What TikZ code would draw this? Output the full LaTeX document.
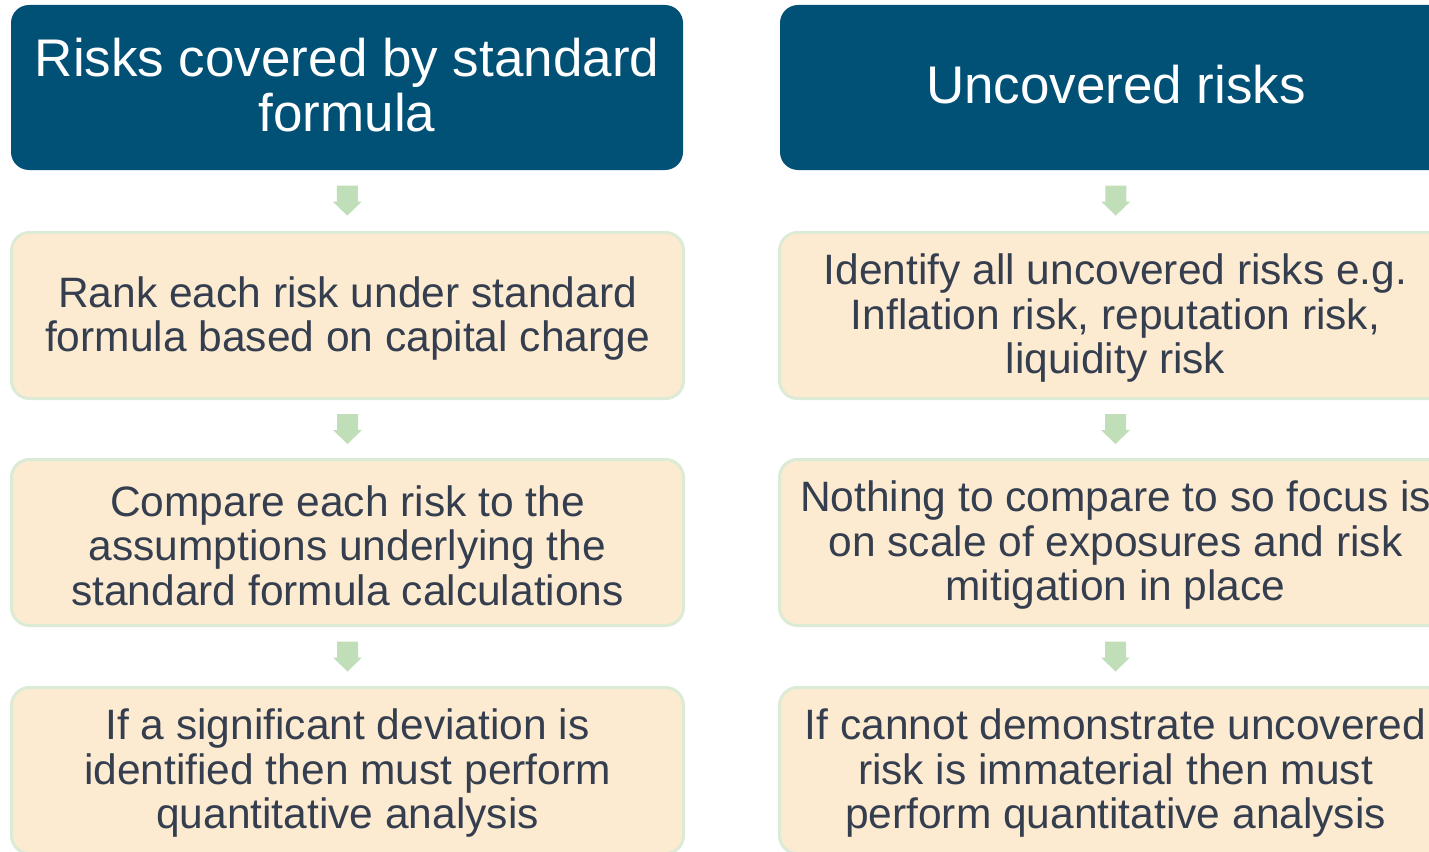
\documentclass[tikz,border=0pt]{standalone}
\usepackage{fontspec}
\setmainfont{Liberation Sans}
\usetikzlibrary{calc}
\definecolor{hdrblue}{RGB}{1,80,118}
\definecolor{boxfill}{RGB}{253,235,209}
\definecolor{boxline}{RGB}{219,235,213}
\definecolor{arrowgreen}{RGB}{192,223,185}
\definecolor{textslate}{RGB}{52,62,79}

% block arrow centred in the gap between two stacked nodes
\newcommand{\gaparrow}[2]{%
  \fill[arrowgreen] ($(#1.south)!0.5!(#2.north)$) ++(-10.5,-15) -- ++(21,0) -- ++(0,16)
    -- ++(4,0) -- ++(-14.5,14) -- ++(-14.5,-14) -- ++(4,0) -- cycle;}

\begin{document}
\begin{tikzpicture}[x=1pt,y=-1pt,
  hdr/.style={fill=hdrblue, rounded corners=18pt, minimum width=672pt,
    minimum height=165pt, inner sep=0pt},
  hdrtext/.style={text=white, align=center, inner sep=0pt, yshift=2.5pt,
    font=\fontsize{53}{55}\selectfont},
  stepbox/.style={fill=boxfill, draw=boxline, line width=3pt, rounded corners=18pt,
    minimum width=672pt, minimum height=166pt, inner sep=0pt},
  steptext/.style={text=textslate, align=center, inner sep=0pt, yshift=-3pt,
    font=\fontsize{42.5}{44.5}\selectfont}]
\useasboundingbox (0,0) rectangle (1429,851);
\clip (0,0) rectangle (1429,851);

% left column
\node[hdr] (h1) at (347,87.5) {};
\node[stepbox] (l1) at (347.5,315.5) {};
\node[stepbox] (l2) at (347.5,542.5) {};
\node[stepbox] (l3) at (347.5,770.5) {};
\node[hdrtext] (h1t) at (h1.center) {Risks covered by standard\\formula};
\node[steptext] (l1t) at (l1.center) {Rank each risk under standard\\formula based on capital charge};
\node[steptext] (l2t) at (l2.center) {Compare each risk to the\\assumptions underlying the\\standard formula calculations};
\node[steptext] (l3t) at (l3.center) {If a significant deviation is\\identified then must perform\\quantitative analysis};

% right column
\node[hdr] (h2) at (1116,87.5) {};
\node[stepbox] (r1) at (1115.5,315.5) {};
\node[stepbox] (r2) at (1115.5,542.5) {};
\node[stepbox] (r3) at (1115.5,770.5) {};
\node[hdrtext] (h2t) at (h2.center) {Uncovered risks};
\node[steptext] (r1t) at (r1.center) {Identify all uncovered risks e.g.\\Inflation risk, reputation risk,\\liquidity risk};
\node[steptext] (r2t) at (r2.center) {Nothing to compare to so focus is\\on scale of exposures and risk\\mitigation in place};
\node[steptext] (r3t) at (r3.center) {If cannot demonstrate uncovered\\risk is immaterial then must\\perform quantitative analysis};

\gaparrow{h1}{l1}
\gaparrow{l1}{l2}
\gaparrow{l2}{l3}
\gaparrow{h2}{r1}
\gaparrow{r1}{r2}
\gaparrow{r2}{r3}
\end{tikzpicture}
\end{document}
